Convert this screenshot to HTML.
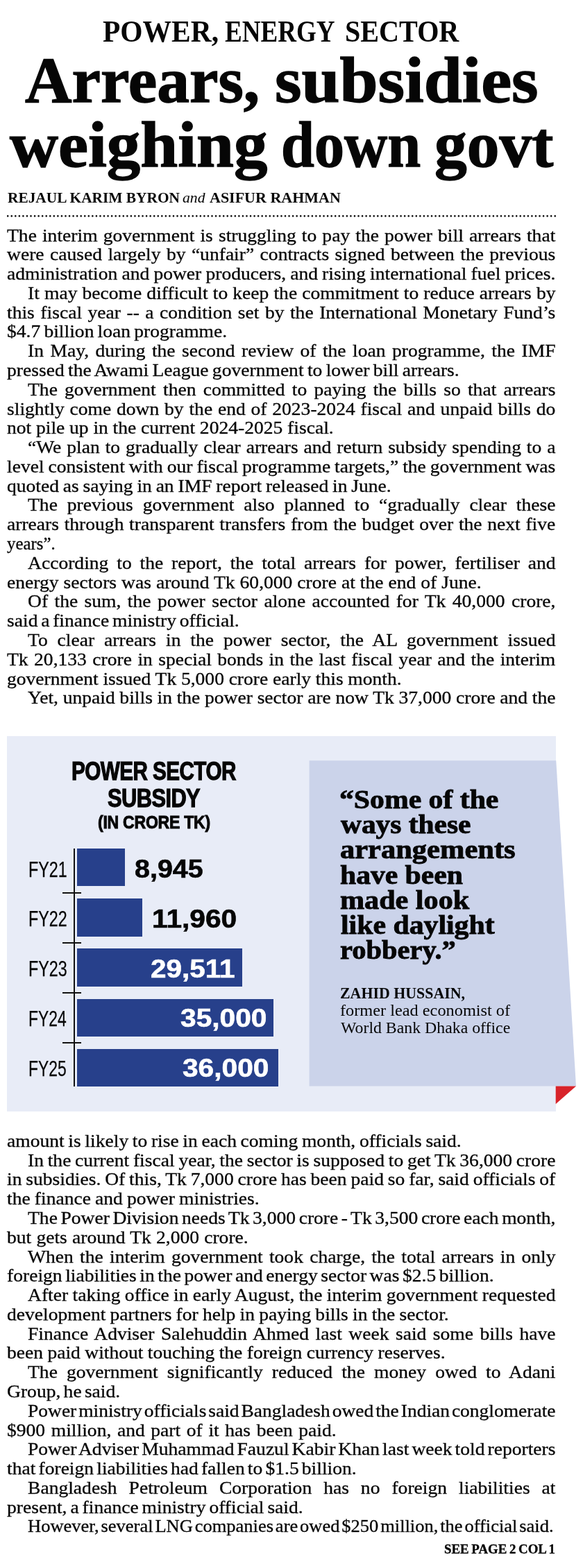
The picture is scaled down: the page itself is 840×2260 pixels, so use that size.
<!DOCTYPE html>
<html lang="en">
<head>
<meta charset="utf-8">
<title>Arrears, subsidies weighing down govt</title>
<style>
html,body{margin:0;padding:0;background:#fff;}
body{width:840px;height:2260px;position:relative;overflow:hidden;color:#060606;font-family:"Liberation Serif",serif;}
.t{position:absolute;white-space:nowrap;transform-origin:0 50%;margin:0;padding:0;}
.l{-webkit-text-stroke:0.3px #060606;position:absolute;white-space:nowrap;transform-origin:0 50%;font-size:25.3px;line-height:28px;height:28px;font-family:"Liberation Serif",serif;color:#060606;}
.sans{font-family:"Liberation Sans",sans-serif;}
.b{font-weight:bold;}
.box{position:absolute;}
</style>
</head>
<body>
<div id="k1" class="t b" style="left:147.76px;top:18.65px;font-size:44px;line-height:53px;height:53px;transform:scaleX(0.9424);">POWER,</div>
<div id="k2" class="t b" style="left:324.01px;top:18.65px;font-size:44px;line-height:53px;height:53px;transform:scaleX(0.8425);">ENERGY</div>
<div id="k3" class="t b" style="left:497.01px;top:18.65px;font-size:44px;line-height:53px;height:53px;transform:scaleX(0.9124);">SECTOR</div>
<div id="h1" class="t b" style="left:36.00px;top:58.53px;font-size:94px;line-height:113px;height:113px;transform:scaleX(0.9940);-webkit-text-stroke:1.4px #060606;">Arrears,</div>
<div id="h2" class="t b" style="left:395.50px;top:58.53px;font-size:94px;line-height:113px;height:113px;transform:scaleX(1.0530);-webkit-text-stroke:1.4px #060606;">subsidies</div>
<div id="h3" class="t b" style="left:14.00px;top:152.47px;font-size:94px;line-height:113px;height:113px;transform:scaleX(1.0306);-webkit-text-stroke:1.4px #060606;">weighing</div>
<div id="h4" class="t b" style="left:404.50px;top:152.47px;font-size:94px;line-height:113px;height:113px;transform:scaleX(0.9163);-webkit-text-stroke:1.4px #060606;">down</div>
<div id="h5" class="t b" style="left:625.51px;top:152.47px;font-size:94px;line-height:113px;height:113px;transform:scaleX(0.9940);-webkit-text-stroke:1.4px #060606;">govt</div>
<div id="by1" class="t b" style="left:11.00px;top:271.88px;font-size:22px;line-height:26px;height:26px;transform:scaleX(0.9704);">REJAUL KARIM BYRON</div>
<div id="by2" class="t " style="left:263.01px;top:272.71px;font-size:21px;line-height:25px;height:25px;transform:scaleX(1.0344);font-style:italic;">and</div>
<div id="by3" class="t b" style="left:302.00px;top:271.88px;font-size:22px;line-height:26px;height:26px;transform:scaleX(1.0000);">ASIFUR RAHMAN</div>
<svg class="box" style="left:0;top:300px" width="840" height="22" viewBox="0 300 840 22"><line x1="11.2" y1="311.4" x2="800.5" y2="311.4" stroke="#111" stroke-width="2.6" stroke-linecap="round" stroke-dasharray="0 5.553"/></svg>
<div class="l" style="left:10.30px;top:324.56px;word-spacing:1.091px;transform:scaleX(1.0900)">The interim government is struggling to pay the power bill arrears that</div>
<div class="l" style="left:10.30px;top:352.34px;word-spacing:1.396px;transform:scaleX(1.0900)">were caused largely by “unfair” contracts signed between the previous</div>
<div class="l" style="left:10.30px;top:380.12px;word-spacing:-0.693px;transform:scaleX(1.0900)">administration and power producers, and rising international fuel prices.</div>
<div class="l" style="left:40.10px;top:407.90px;word-spacing:0.188px;transform:scaleX(1.0900)">It may become difficult to keep the commitment to reduce arrears by</div>
<div class="l" style="left:10.30px;top:435.68px;word-spacing:1.473px;transform:scaleX(1.0900)">this fiscal year -- a condition set by the International Monetary Fund’s</div>
<div class="l" style="left:10.30px;top:463.46px;word-spacing:-1.591px;transform:scaleX(1.0900)">$4.7 billion loan programme.</div>
<div class="l" style="left:40.10px;top:491.24px;word-spacing:2.331px;transform:scaleX(1.0900)">In May, during the second review of the loan programme, the IMF</div>
<div class="l" style="left:10.30px;top:519.02px;word-spacing:-1.453px;transform:scaleX(1.0900)">pressed the Awami League government to lower bill arrears.</div>
<div class="l" style="left:40.10px;top:546.80px;word-spacing:3.032px;transform:scaleX(1.0900)">The government then committed to paying the bills so that arrears</div>
<div class="l" style="left:10.30px;top:574.58px;word-spacing:0.818px;transform:scaleX(1.0900)">slightly come down by the end of 2023-2024 fiscal and unpaid bills do</div>
<div class="l" style="left:10.30px;top:602.36px;word-spacing:-0.133px;transform:scaleX(1.0900)">not pile up in the current 2024-2025 fiscal.</div>
<div class="l" style="left:40.10px;top:630.14px;word-spacing:0.968px;transform:scaleX(1.0900)">“We plan to gradually clear arrears and return subsidy spending to a</div>
<div class="l" style="left:10.30px;top:657.92px;word-spacing:-0.877px;transform:scaleX(1.0900)">level consistent with our fiscal programme targets,” the government was</div>
<div class="l" style="left:10.30px;top:685.70px;word-spacing:-1.009px;transform:scaleX(1.0900)">quoted as saying in an IMF report released in June.</div>
<div class="l" style="left:40.10px;top:713.48px;word-spacing:6.432px;transform:scaleX(1.0900)">The previous government also planned to “gradually clear these</div>
<div class="l" style="left:10.30px;top:741.26px;word-spacing:0.717px;transform:scaleX(1.0900)">arrears through transparent transfers from the budget over the next five</div>
<div class="l" style="left:10.30px;top:769.04px;word-spacing:0.000px;transform:scaleX(0.9826)">years”.</div>
<div class="l" style="left:40.10px;top:796.82px;word-spacing:4.547px;transform:scaleX(1.0900)">According to the report, the total arrears for power, fertiliser and</div>
<div class="l" style="left:10.30px;top:824.60px;word-spacing:0.078px;transform:scaleX(1.0900)">energy sectors was around Tk 60,000 crore at the end of June.</div>
<div class="l" style="left:40.10px;top:852.38px;word-spacing:2.293px;transform:scaleX(1.0900)">Of the sum, the power sector alone accounted for Tk 40,000 crore,</div>
<div class="l" style="left:10.30px;top:880.16px;word-spacing:-1.972px;transform:scaleX(1.0900)">said a finance ministry official.</div>
<div class="l" style="left:40.10px;top:907.94px;word-spacing:6.432px;transform:scaleX(1.0900)">To clear arrears in the power sector, the AL government issued</div>
<div class="l" style="left:10.30px;top:935.72px;word-spacing:1.411px;transform:scaleX(1.0900)">Tk 20,133 crore in special bonds in the last fiscal year and the interim</div>
<div class="l" style="left:10.30px;top:963.50px;word-spacing:-0.171px;transform:scaleX(1.0900)">government issued Tk 5,000 crore early this month.</div>
<div class="l" style="left:40.10px;top:991.28px;word-spacing:-0.192px;transform:scaleX(1.0900)">Yet, unpaid bills in the power sector are now Tk 37,000 crore and the</div>
<div class="box" style="left:10px;top:1061px;width:790.7px;height:541.4px;background:#e8ecf7;"></div>
<svg class="box" style="left:0;top:0" width="840" height="2260" viewBox="0 0 840 2260"><polygon points="445.6,1096.3 801.2,1096.3 830,1565.4 445.6,1565.4" fill="#cbd3ea"/><polygon points="800.7,1565.4 830,1565.4 800.7,1591.2" fill="#d8232a"/></svg>
<div id="ct1" class="t sans b" style="left:102.75px;top:1088.90px;font-size:37.8px;line-height:45px;height:45px;transform:scaleX(0.7849);-webkit-text-stroke:1.25px #060606;letter-spacing:-0.7px;">POWER SECTOR</div>
<div id="ct2" class="t sans b" style="left:155.01px;top:1128.20px;font-size:37.8px;line-height:45px;height:45px;transform:scaleX(0.8159);-webkit-text-stroke:1.25px #060606;letter-spacing:-0.7px;">SUBSIDY</div>
<div id="ct3" class="t sans b" style="left:140.51px;top:1170.23px;font-size:25.6px;line-height:31px;height:31px;transform:scaleX(0.9020);-webkit-text-stroke:0.95px #060606;letter-spacing:-0.3px;">(IN CRORE TK)</div>
<div class="box" style="left:106.1px;top:1223.1px;width:2.1px;height:342.9px;background:#111;"></div>
<div class="box" style="left:111.1px;top:1223.10px;width:68.9px;height:54.3px;background:#27408b;"></div>
<div class="box" style="left:90px;top:1285.90px;width:26.9px;height:2px;background:#111;"></div>
<div id="lab0" class="t sans" style="left:40.90px;top:1233.51px;font-size:32px;line-height:38px;height:38px;transform:scaleX(0.7295);-webkit-text-stroke:0.25px #060606;">FY21</div>
<div id="val0" class="t sans b" style="left:193.70px;top:1230.93px;font-size:36px;line-height:43px;height:43px;transform:scaleX(1.0956);color:#060606;-webkit-text-stroke:0.6px #060606;">8,945</div>
<div class="box" style="left:111.1px;top:1295.25px;width:93.7px;height:54.3px;background:#27408b;"></div>
<div class="box" style="left:90px;top:1357.80px;width:26.9px;height:2px;background:#111;"></div>
<div id="lab1" class="t sans" style="left:40.90px;top:1305.31px;font-size:32px;line-height:38px;height:38px;transform:scaleX(0.7295);-webkit-text-stroke:0.25px #060606;">FY22</div>
<div id="val1" class="t sans b" style="left:219.00px;top:1302.73px;font-size:36px;line-height:43px;height:43px;transform:scaleX(1.1304);color:#060606;-webkit-text-stroke:0.6px #060606;">11,960</div>
<div class="box" style="left:111.1px;top:1367.40px;width:237.5px;height:54.3px;background:#27408b;"></div>
<div class="box" style="left:90px;top:1429.70px;width:26.9px;height:2px;background:#111;"></div>
<div id="lab2" class="t sans" style="left:40.90px;top:1377.11px;font-size:32px;line-height:38px;height:38px;transform:scaleX(0.7295);-webkit-text-stroke:0.25px #060606;">FY23</div>
<div id="val2" class="t sans b" style="left:216.99px;top:1374.53px;font-size:36px;line-height:43px;height:43px;transform:scaleX(1.1236);color:#fff;-webkit-text-stroke:0.6px #fff;">29,511</div>
<div class="box" style="left:111.1px;top:1439.55px;width:282.7px;height:54.3px;background:#27408b;"></div>
<div class="box" style="left:90px;top:1501.60px;width:26.9px;height:2px;background:#111;"></div>
<div id="lab3" class="t sans" style="left:40.89px;top:1448.91px;font-size:32px;line-height:38px;height:38px;transform:scaleX(0.7163);-webkit-text-stroke:0.25px #060606;">FY24</div>
<div id="val3" class="t sans b" style="left:259.91px;top:1446.33px;font-size:36px;line-height:43px;height:43px;transform:scaleX(1.1304);color:#fff;-webkit-text-stroke:0.6px #fff;">35,000</div>
<div class="box" style="left:111.1px;top:1511.70px;width:289.9px;height:54.3px;background:#27408b;"></div>
<div id="lab4" class="t sans" style="left:40.94px;top:1520.71px;font-size:32px;line-height:38px;height:38px;transform:scaleX(0.7157);-webkit-text-stroke:0.25px #060606;">FY25</div>
<div id="val4" class="t sans b" style="left:262.71px;top:1518.13px;font-size:36px;line-height:43px;height:43px;transform:scaleX(1.1298);color:#fff;-webkit-text-stroke:0.6px #fff;">36,000</div>
<div id="q0" class="t b" style="left:489.00px;top:1129.17px;font-size:38px;line-height:46px;height:46px;transform:scaleX(1.0977);-webkit-text-stroke:0.9px #060606;">“Some of the</div>
<div id="q1" class="t b" style="left:491.00px;top:1165.33px;font-size:38px;line-height:46px;height:46px;transform:scaleX(1.0895);-webkit-text-stroke:0.9px #060606;">ways these</div>
<div id="q2" class="t b" style="left:490.01px;top:1201.47px;font-size:38px;line-height:46px;height:46px;transform:scaleX(1.1184);-webkit-text-stroke:0.9px #060606;">arrangements</div>
<div id="q3" class="t b" style="left:490.01px;top:1237.62px;font-size:38px;line-height:46px;height:46px;transform:scaleX(1.0948);-webkit-text-stroke:0.9px #060606;">have been</div>
<div id="q4" class="t b" style="left:490.00px;top:1273.77px;font-size:38px;line-height:46px;height:46px;transform:scaleX(1.1090);-webkit-text-stroke:0.9px #060606;">made look</div>
<div id="q5" class="t b" style="left:491.00px;top:1309.92px;font-size:38px;line-height:46px;height:46px;transform:scaleX(1.0990);-webkit-text-stroke:0.9px #060606;">like daylight</div>
<div id="q6" class="t b" style="left:490.00px;top:1346.08px;font-size:38px;line-height:46px;height:46px;transform:scaleX(1.0649);-webkit-text-stroke:0.9px #060606;">robbery.”</div>
<div id="at1" class="t b" style="left:490.00px;top:1417.64px;font-size:23px;line-height:28px;height:28px;transform:scaleX(0.9516);">ZAHID HUSSAIN,</div>
<div id="at2" class="t " style="left:490.00px;top:1443.44px;font-size:23px;line-height:28px;height:28px;transform:scaleX(1.0573);">former lead economist of</div>
<div id="at3" class="t " style="left:491.00px;top:1468.44px;font-size:23px;line-height:28px;height:28px;transform:scaleX(1.0351);">World Bank Dhaka office</div>
<div id="see" class="t b" style="left:640.41px;top:2222.12px;font-size:18.6px;line-height:22px;height:22px;transform:scaleX(1.0131);-webkit-text-stroke:0.35px #060606;word-spacing:-1px;">SEE PAGE 2 COL 1</div>
<div class="l" style="left:10.30px;top:1629.86px;word-spacing:-1.153px;transform:scaleX(1.0900)">amount is likely to rise in each coming month, officials said.</div>
<div class="l" style="left:40.10px;top:1657.64px;word-spacing:-1.063px;transform:scaleX(1.0900)">In the current fiscal year, the sector is supposed to get Tk 36,000 crore</div>
<div class="l" style="left:10.30px;top:1685.42px;word-spacing:-0.964px;transform:scaleX(1.0900)">in subsidies. Of this, Tk 7,000 crore has been paid so far, said officials of</div>
<div class="l" style="left:10.30px;top:1713.20px;word-spacing:-0.704px;transform:scaleX(1.0900)">the finance and power ministries.</div>
<div class="l" style="left:40.10px;top:1740.98px;word-spacing:-2.138px;transform:scaleX(1.0900)">The Power Division needs Tk 3,000 crore - Tk 3,500 crore each month,</div>
<div class="l" style="left:10.30px;top:1768.76px;word-spacing:0.242px;transform:scaleX(1.0900)">but gets around Tk 2,000 crore.</div>
<div class="l" style="left:40.10px;top:1796.54px;word-spacing:2.171px;transform:scaleX(1.0900)">When the interim government took charge, the total arrears in only</div>
<div class="l" style="left:10.30px;top:1824.32px;word-spacing:-2.177px;transform:scaleX(1.0900)">foreign liabilities in the power and energy sector was $2.5 billion.</div>
<div class="l" style="left:40.10px;top:1852.10px;word-spacing:-0.479px;transform:scaleX(1.0900)">After taking office in early August, the interim government requested</div>
<div class="l" style="left:10.30px;top:1879.88px;word-spacing:-0.666px;transform:scaleX(1.0900)">development partners for help in paying bills in the sector.</div>
<div class="l" style="left:40.10px;top:1907.66px;word-spacing:2.348px;transform:scaleX(1.0900)">Finance Adviser Salehuddin Ahmed last week said some bills have</div>
<div class="l" style="left:10.30px;top:1935.44px;word-spacing:-0.499px;transform:scaleX(1.0900)">been paid without touching the foreign currency reserves.</div>
<div class="l" style="left:40.10px;top:1963.22px;word-spacing:5.723px;transform:scaleX(1.0900)">The government significantly reduced the money owed to Adani</div>
<div class="l" style="left:10.30px;top:1991.00px;word-spacing:-2.419px;transform:scaleX(1.0900)">Group, he said.</div>
<div class="l" style="left:40.10px;top:2018.78px;word-spacing:-3.600px;transform:scaleX(1.0865)">Power ministry officials said Bangladesh owed the Indian conglomerate</div>
<div class="l" style="left:10.30px;top:2046.56px;word-spacing:1.571px;transform:scaleX(1.0900)">$900 million, and part of it has been paid.</div>
<div class="l" style="left:40.10px;top:2074.34px;word-spacing:-2.644px;transform:scaleX(1.0900)">Power Adviser Muhammad Fauzul Kabir Khan last week told reporters</div>
<div class="l" style="left:10.30px;top:2102.12px;word-spacing:-2.533px;transform:scaleX(1.0900)">that foreign liabilities had fallen to $1.5 billion.</div>
<div class="l" style="left:40.10px;top:2129.90px;word-spacing:9.244px;transform:scaleX(1.0900)">Bangladesh Petroleum Corporation has no foreign liabilities at</div>
<div class="l" style="left:10.30px;top:2157.68px;word-spacing:-1.835px;transform:scaleX(1.0900)">present, a finance ministry official said.</div>
<div class="l" style="left:40.10px;top:2185.46px;word-spacing:-3.600px;transform:scaleX(1.0474)">However, several LNG companies are owed $250 million, the official said.</div>
</body>
</html>
